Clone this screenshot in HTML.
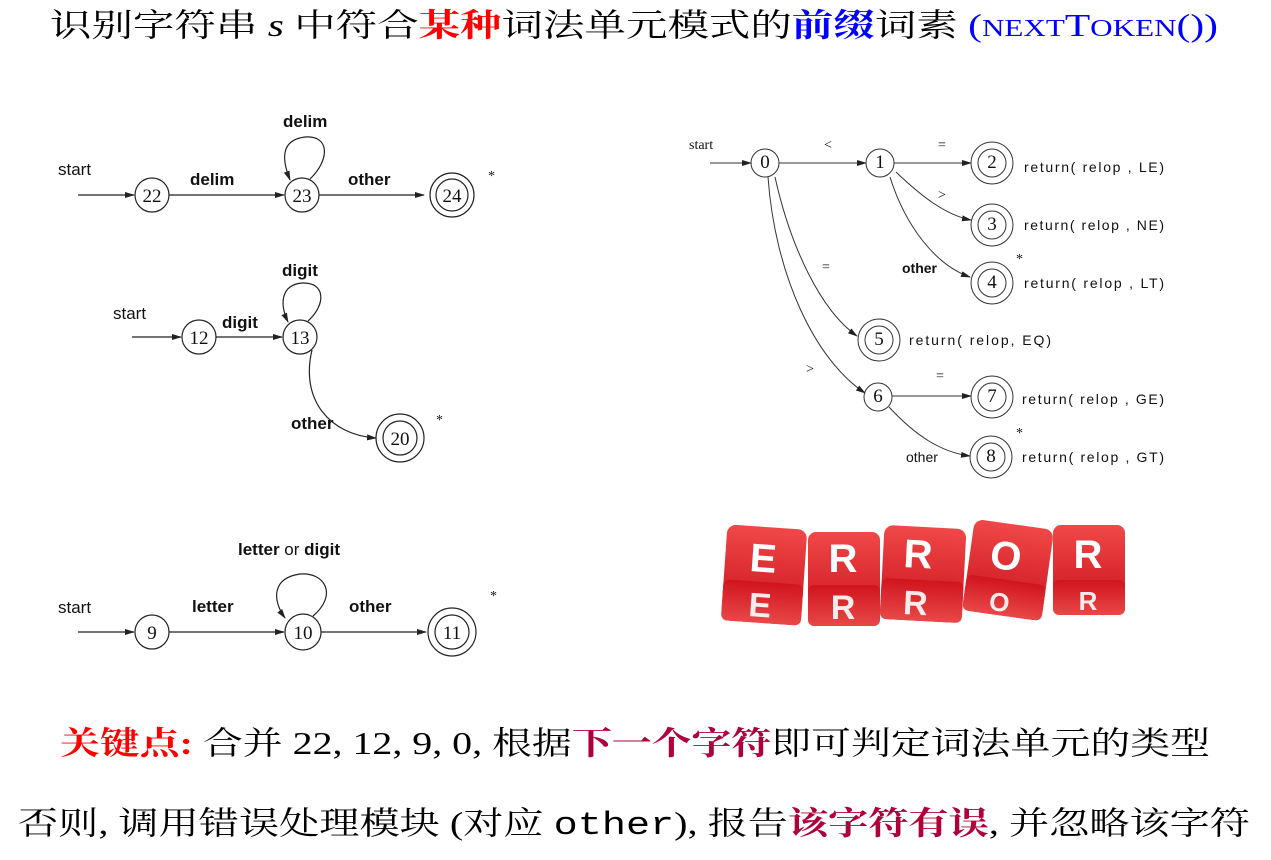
<!DOCTYPE html>
<html><head><meta charset="utf-8"><style>
html,body{margin:0;padding:0;background:#fff;}
svg{display:block;}
.cj{font-family:"Liberation Serif","Noto Serif CJK SC","Noto Sans CJK SC",serif;}
.lab{font-family:"Liberation Sans",sans-serif;font-weight:bold;font-size:17px;fill:#111;}
.st{font-family:"Liberation Sans",sans-serif;font-weight:normal;font-size:17px;fill:#111;}
.num{font-family:"Liberation Serif",serif;font-size:19px;fill:#111;}
.sm{font-family:"Liberation Serif",serif;font-size:14px;fill:#111;}
.ret{font-family:"Liberation Sans",sans-serif;font-size:14px;fill:#111;}
</style></head><body>
<svg width="1271" height="860" viewBox="0 0 1271 860" xmlns="http://www.w3.org/2000/svg">
<defs>
<marker id="a" markerWidth="10" markerHeight="8" refX="9" refY="4" orient="auto" markerUnits="userSpaceOnUse"><path d="M0,1 L10,4 L0,7 Z" fill="#222"/></marker>
<linearGradient id="rg" x1="0" y1="0" x2="0" y2="1"><stop offset="0" stop-color="#f04848"/><stop offset="1" stop-color="#c8121c"/></linearGradient>
<linearGradient id="rg2" x1="0" y1="0" x2="0" y2="1"><stop offset="0" stop-color="#d0141e"/><stop offset="1" stop-color="#e84848"/></linearGradient>
</defs>

<!-- title -->
<text x="50" y="36" class="cj" font-size="32" textLength="1168" lengthAdjust="spacingAndGlyphs">识别字符串 <tspan font-style="italic">s</tspan> 中符合<tspan fill="#f00" font-weight="bold">某种</tspan>词法单元模式的<tspan fill="#00f" font-weight="bold">前缀</tspan>词素 <tspan fill="#00f">(<tspan font-size="24">NEXT</tspan>T<tspan font-size="24">OKEN</tspan>())</tspan></text>

<g stroke="#222" stroke-width="1.2" fill="none">
<line x1="78" y1="195" x2="134" y2="195" marker-end="url(#a)"/>
<circle cx="152" cy="195" r="17"/>
<line x1="169" y1="195" x2="284" y2="195" marker-end="url(#a)"/>
<circle cx="302" cy="195" r="17"/>
<path d="M310,179 C330,160 330,135 305,137 C280,140 282,160 290,180" marker-end="url(#a)"/>
<line x1="319" y1="195" x2="424" y2="195" marker-end="url(#a)"/>
<circle cx="452" cy="195" r="22"/><circle cx="452" cy="195" r="16"/>
<line x1="132" y1="337" x2="181" y2="337" marker-end="url(#a)"/>
<circle cx="199" cy="337" r="17"/>
<line x1="216" y1="337" x2="282" y2="337" marker-end="url(#a)"/>
<circle cx="300" cy="337" r="17"/>
<path d="M308,321 C326,305 326,282 302,283 C280,285 280,305 288,322" marker-end="url(#a)"/>
<path d="M312,350 C300,400 330,435 376,438" marker-end="url(#a)"/>
<circle cx="400" cy="438" r="24"/><circle cx="400" cy="438" r="17"/>
<line x1="78" y1="632" x2="134" y2="632" marker-end="url(#a)"/>
<circle cx="152" cy="632" r="17"/>
<line x1="169" y1="632" x2="284" y2="632" marker-end="url(#a)"/>
<circle cx="303" cy="632" r="18"/>
<path d="M313,616 C338,595 325,572 300,574 C272,578 272,600 285,618" marker-end="url(#a)"/>
<line x1="321" y1="632" x2="426" y2="632" marker-end="url(#a)"/>
<circle cx="452" cy="632" r="24"/><circle cx="452" cy="632" r="17"/>
</g>
<g stroke="#333" stroke-width="1" fill="none">
<line x1="710" y1="163" x2="751" y2="163" marker-end="url(#a)"/>
<circle cx="765" cy="163" r="14"/>
<line x1="779" y1="163" x2="866" y2="163" marker-end="url(#a)"/>
<circle cx="880" cy="163" r="14"/>
<line x1="894" y1="163" x2="971" y2="163" marker-end="url(#a)"/>
<circle cx="992" cy="163" r="21"/><circle cx="992" cy="163" r="14"/>
<path d="M896,172 C920,195 945,215 971,220" marker-end="url(#a)"/>
<circle cx="992" cy="225" r="21"/><circle cx="992" cy="225" r="14"/>
<path d="M890,177 C905,225 935,265 970,277" marker-end="url(#a)"/>
<circle cx="992" cy="283" r="21"/><circle cx="992" cy="283" r="14"/>
<path d="M775,177 C790,245 820,310 857,336" marker-end="url(#a)"/>
<circle cx="879" cy="340" r="21"/><circle cx="879" cy="340" r="14"/>
<path d="M768,177 C775,275 815,360 865,393" marker-end="url(#a)"/>
<circle cx="878" cy="397" r="14"/>
<line x1="892" y1="396" x2="971" y2="396" marker-end="url(#a)"/>
<circle cx="992" cy="397" r="21"/><circle cx="992" cy="397" r="14"/>
<path d="M889,407 C915,435 940,452 970,456" marker-end="url(#a)"/>
<circle cx="991" cy="457" r="21"/><circle cx="991" cy="457" r="14"/>
</g>

<text x="58" y="175" class="st">start</text>
<text x="190" y="185" class="lab">delim</text>
<text x="283" y="127" class="lab">delim</text>
<text x="348" y="185" class="lab">other</text>
<text x="488" y="180" class="sm" font-size="18">*</text>
<text x="152" y="202" class="num" text-anchor="middle">22</text>
<text x="302" y="202" class="num" text-anchor="middle">23</text>
<text x="452" y="202" class="num" text-anchor="middle">24</text>

<text x="113" y="319" class="st">start</text>
<text x="222" y="328" class="lab">digit</text>
<text x="282" y="276" class="lab">digit</text>
<text x="291" y="429" class="lab">other</text>
<text x="436" y="424" class="sm" font-size="18">*</text>
<text x="199" y="344" class="num" text-anchor="middle">12</text>
<text x="300" y="344" class="num" text-anchor="middle">13</text>
<text x="400" y="445" class="num" text-anchor="middle">20</text>

<text x="58" y="613" class="st">start</text>
<text x="192" y="612" class="lab">letter</text>
<text x="238" y="555" class="lab">letter <tspan font-weight="normal">or</tspan> digit</text>
<text x="349" y="612" class="lab">other</text>
<text x="490" y="600" class="sm" font-size="18">*</text>
<text x="152" y="639" class="num" text-anchor="middle">9</text>
<text x="303" y="639" class="num" text-anchor="middle">10</text>
<text x="452" y="639" class="num" text-anchor="middle">11</text>

<text x="689" y="149" class="sm" font-size="13">start</text>
<text x="824" y="149" class="sm">&lt;</text>
<text x="938" y="149" class="sm">=</text>
<text x="938" y="199" class="sm">&gt;</text>
<text x="822" y="271" class="sm">=</text>
<text x="806" y="373" class="sm">&gt;</text>
<text x="936" y="380" class="sm">=</text>
<text x="902" y="273" class="ret" font-weight="bold">other</text>
<text x="906" y="462" class="ret">other</text>
<text x="1016" y="263" class="sm" font-size="12">*</text>
<text x="1016" y="437" class="sm" font-size="12">*</text>
<g class="num" font-size="15" text-anchor="middle">
<text x="765" y="168">0</text><text x="880" y="168">1</text><text x="992" y="168">2</text>
<text x="992" y="230">3</text><text x="992" y="288">4</text><text x="879" y="345">5</text>
<text x="878" y="402">6</text><text x="992" y="402">7</text><text x="991" y="462">8</text>
</g>
<text x="1024" y="172" class="ret" textLength="140">return(  relop , LE)</text>
<text x="1024" y="230" class="ret" textLength="140">return(  relop , NE)</text>
<text x="1024" y="288" class="ret" textLength="140">return(  relop , LT)</text>
<text x="909" y="345" class="ret" textLength="142">return(  relop,  EQ)</text>
<text x="1022" y="404" class="ret" textLength="142">return(  relop , GE)</text>
<text x="1022" y="462" class="ret" textLength="142">return(  relop , GT)</text>

<g font-family="Liberation Sans,sans-serif" font-weight="bold" fill="#fff" text-anchor="middle">
<g transform="rotate(4 764 576)"><rect x="724" y="527" width="80" height="96" rx="9" fill="url(#rg)"/><rect x="724" y="582" width="80" height="41" rx="6" fill="url(#rg2)"/><text x="762" y="572" font-size="40">E</text><text x="762" y="617" font-size="34" opacity=".9">E</text></g>
<g><rect x="808" y="532" width="72" height="94" rx="8" fill="url(#rg)"/><rect x="808" y="585" width="72" height="41" rx="6" fill="url(#rg2)"/><text x="843" y="572" font-size="40">R</text><text x="843" y="619" font-size="34" opacity=".9">R</text></g>
<g transform="rotate(3 923 575)"><rect x="882" y="527" width="82" height="94" rx="9" fill="url(#rg)"/><rect x="882" y="580" width="82" height="41" rx="6" fill="url(#rg2)"/><text x="917" y="568" font-size="40">R</text><text x="917" y="615" font-size="34" opacity=".9">R</text></g>
<g transform="rotate(8 1008 570)"><rect x="968" y="524" width="80" height="92" rx="9" fill="url(#rg)"/><rect x="968" y="580" width="80" height="36" rx="6" fill="url(#rg2)"/><text x="1004" y="570" font-size="40">O</text><text x="1004" y="612" font-size="26" opacity=".9">O</text></g>
<g><rect x="1053" y="525" width="72" height="90" rx="8" fill="url(#rg)"/><rect x="1053" y="580" width="72" height="35" rx="6" fill="url(#rg2)"/><text x="1088" y="568" font-size="40">R</text><text x="1088" y="610" font-size="26" opacity=".9">R</text></g>
</g>

<text x="60" y="754" class="cj" font-size="32" textLength="1150" lengthAdjust="spacingAndGlyphs"><tspan fill="#f00" font-weight="bold">关键点:</tspan> 合并 22, 12, 9, 0, 根据<tspan fill="#b0003a" font-weight="bold">下一个字符</tspan>即可判定词法单元的类型</text>
<text x="18" y="834" class="cj" font-size="32" textLength="1232" lengthAdjust="spacingAndGlyphs">否则, 调用错误处理模块 (对应 <tspan font-family="Liberation Mono,monospace">other</tspan>), 报告<tspan fill="#b0003a" font-weight="bold">该字符有误</tspan>, 并忽略该字符</text>
</svg>
</body></html>
